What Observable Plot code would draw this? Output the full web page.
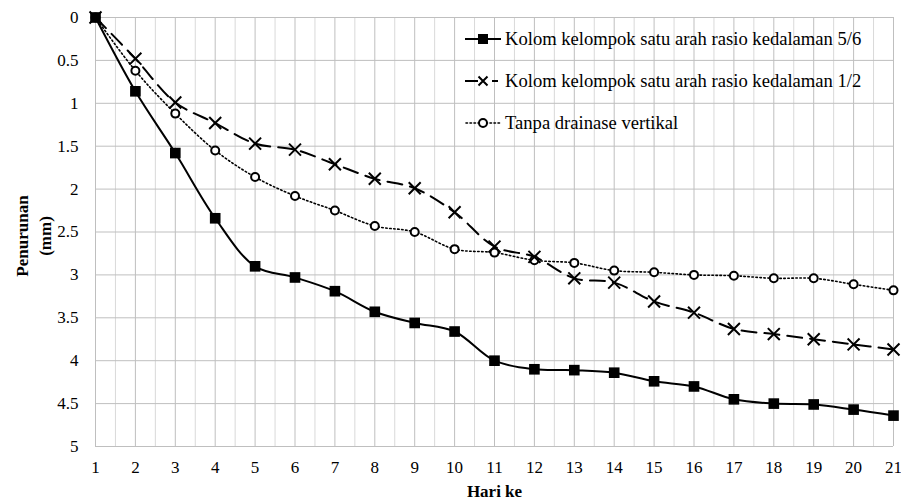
<!DOCTYPE html>
<html><head><meta charset="utf-8">
<script src="https://cdn.jsdelivr.net/npm/d3@7"></script>
<script src="https://cdn.jsdelivr.net/npm/@observablehq/plot@0.6"></script>
<style>
body{margin:0;background:#fff;}
#wrap{position:relative;width:901px;height:502px;font-family:'Liberation Serif','Tinos','Times New Roman',Times,'DejaVu Serif',serif;color:#000;}
#legend{position:absolute;left:465px;top:18px;}
.item{display:flex;align-items:center;height:42px;font-size:18.6px;white-space:nowrap;}
.item svg{margin-right:4px;flex:none;}
</style></head><body><div id="wrap"></div>
<script>
const days = [1,2,3,4,5,6,7,8,9,10,11,12,13,14,15,16,17,18,19,20,21];
const seriesNames = [
  "Kolom kelompok satu arah rasio kedalaman 5/6",
  "Kolom kelompok satu arah rasio kedalaman 1/2",
  "Tanpa drainase vertikal"
];
const valuesA = [0,0.86,1.58,2.34,2.90,3.03,3.19,3.43,3.56,3.66,4.00,4.10,4.11,4.14,4.24,4.30,4.45,4.50,4.51,4.57,4.64];
const valuesB = [0,0.48,0.99,1.23,1.47,1.54,1.71,1.88,1.99,2.27,2.67,2.79,3.04,3.09,3.31,3.44,3.63,3.69,3.75,3.81,3.87];
const valuesC = [0,0.62,1.12,1.55,1.86,2.08,2.25,2.43,2.50,2.70,2.74,2.83,2.86,2.95,2.97,3.00,3.01,3.04,3.04,3.11,3.18];
const yTicks = [0,0.5,1,1.5,2,2.5,3,3.5,4,4.5,5];
const halfDays = [1.5,2.5,3.5,4.5,5.5,6.5,7.5,8.5,9.5,10.5,11.5,12.5,13.5,14.5,15.5,16.5,17.5,18.5,19.5,20.5];
const xLabel = "Hari ke";
const yLabel = "Penurunan\n(mm)";

const serifStack = "'Liberation Serif','Tinos','Times New Roman',Times,'DejaVu Serif',serif";
const toRows = vals => days.map((d,i)=>({day:d, v:vals[i]}));
const A = toRows(valuesA), B = toRows(valuesB), C = toRows(valuesC);

const chart = Plot.plot({
  width: 901, height: 502,
  marginLeft: 95, marginRight: 8, marginTop: 17, marginBottom: 56,
  style: {fontFamily: serifStack, fontSize: "17px", color: "#000", background: "#fff"},
  x: {domain: [1,21], ticks: days, tickSize: 0, tickPadding: 14, label: null, tickFormat: d => String(d)},
  y: {domain: [0,5], reverse: true, ticks: yTicks, tickSize: 0, tickPadding: 17, label: null, tickFormat: d => String(d)},
  marks: [
    Plot.ruleX(halfDays, {stroke: "#d9d9d9", strokeWidth: 1}),
    Plot.ruleX(days, {stroke: "#bfbfbf", strokeWidth: 1}),
    Plot.ruleY(yTicks, {stroke: "#bfbfbf", strokeWidth: 1}),
    Plot.line(C, {x:"day", y:"v", curve:"catmull-rom", stroke:"#000", strokeWidth:1.6, strokeDasharray:"1.5,2.5", strokeLinecap:"round"}),
    Plot.line(B, {x:"day", y:"v", curve:"catmull-rom", stroke:"#000", strokeWidth:2, strokeDasharray:"15,8"}),
    Plot.line(A, {x:"day", y:"v", curve:"catmull-rom", stroke:"#000", strokeWidth:2}),
    Plot.dot(C, {x:"day", y:"v", r:4, stroke:"#000", strokeWidth:2, fill:"#fff"}),
    Plot.dot(B, {x:"day", y:"v", symbol:"times", r:5.5, stroke:"#000", strokeWidth:2}),
    Plot.dot(A, {x:"day", y:"v", symbol:"square", r:6, fill:"#000", stroke:"none"}),
    Plot.text([yLabel], {frameAnchor:"left", textAnchor:"middle", rotate:-90, dx:-63, dy:4, fontWeight:"bold", fontSize:17, lineHeight:1.35, fontFamily: serifStack}),
    Plot.text([xLabel], {frameAnchor:"bottom", dy:50, fontWeight:"bold", fontSize:17, fontFamily: serifStack})
  ]
});
const wrap = document.getElementById("wrap");
wrap.appendChild(chart);

// Legend
const legend = document.createElement("div");
legend.id = "legend";
const symbols = [
  `<svg width="36" height="16"><line x1="0" y1="8" x2="36" y2="8" stroke="#000" stroke-width="2"/><rect x="13" y="3" width="10" height="10" fill="#000"/></svg>`,
  `<svg width="36" height="16"><line x1="0" y1="8" x2="13" y2="8" stroke="#000" stroke-width="2"/><line x1="27" y1="8" x2="33" y2="8" stroke="#000" stroke-width="2"/><path d="M13.5,3.5L22.5,12.5M22.5,3.5L13.5,12.5" stroke="#000" stroke-width="2"/></svg>`,
  `<svg width="36" height="16"><line x1="1" y1="8" x2="35" y2="8" stroke="#000" stroke-width="1.6" stroke-dasharray="1.5,2.5" stroke-linecap="round"/><circle cx="18" cy="8" r="4" fill="#fff" stroke="#000" stroke-width="2"/></svg>`
];
seriesNames.forEach((name,i)=>{
  const it = document.createElement("div");
  it.className = "item";
  it.innerHTML = symbols[i] + `<span>${name}</span>`;
  legend.appendChild(it);
});
wrap.appendChild(legend);
</script>
</body></html>
